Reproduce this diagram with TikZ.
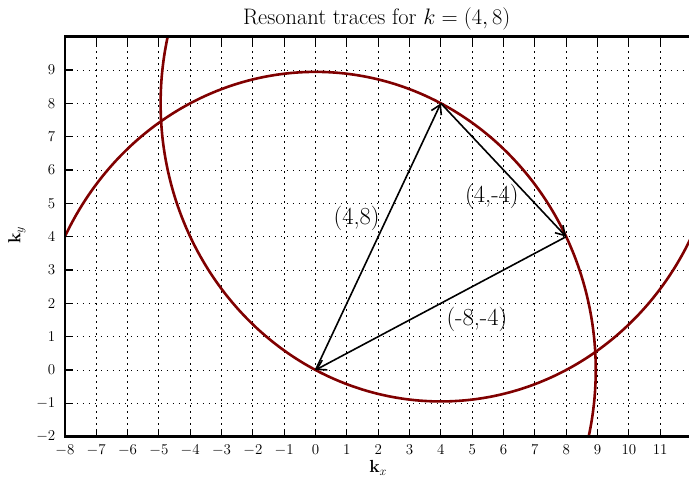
\documentclass[tikz,border=0pt]{standalone}
\usepackage{fix-cm}
\usetikzlibrary{arrows.meta}
\definecolor{tracered}{RGB}{128,0,0}
\tikzset{
  gridline/.style={black,line width=0.8pt,dash pattern=on 1.2pt off 4.8pt},
  trace/.style={tracered,line width=2.6pt},
  kvec/.style={black,line width=1.6pt,-{Straight Barb[length=9pt,width=11pt]}},
  tickmark/.style={black,line width=1.2pt},
  ticklab/.style={font=\fontsize{15}{18}\selectfont},
  veclab/.style={font=\fontsize{24.5}{29}\selectfont},
}
\begin{document}
\begin{tikzpicture}[x=31.33pt,y=33.33pt]
\useasboundingbox (-10.07,-3.42) rectangle (11.92,11.10);
% grid
\foreach \x in {-7,...,11} \draw[gridline] (\x,-2) -- (\x,10);
\foreach \y in {-1,...,9} \draw[gridline] (-8,\y) -- (11.92,\y);
% resonant traces, |p|=|k| and |p-k|=|k|
\begin{scope}
\clip (-8,-2) rectangle (11.92,10);
\draw[trace] plot[domain=0:360,samples=240,smooth] ({sqrt(80)*cos(\x)},{sqrt(80)*sin(\x)});
\draw[trace] plot[domain=0:360,samples=240,smooth] ({4+sqrt(80)*cos(\x)},{8+sqrt(80)*sin(\x)});
\end{scope}
% vectors
\coordinate (O) at (0,0); \coordinate (K) at (4,8); \coordinate (Q) at (8,4);
\draw[kvec] (O) -- (K); \draw[kvec] (K) -- (Q); \draw[kvec] (Q) -- (O);
\node[veclab] (lk) at (1.31,4.56) {(4,8)};
\node[veclab] (lkq) at (5.63,5.22) {(4,-4)};
\node[veclab] (lqo) at (5.15,1.53) {(-8,-4)};
% frame and ticks
\draw[line width=2.4pt,line join=miter] (11.92,10) -- (-8,10) -- (-8,-2) -- (11.92,-2);
\foreach \x in {-7,...,11} {\draw[tickmark] (\x,-2) -- ++(0,0.24); \draw[tickmark] (\x,10) -- ++(0,-0.24);}
\foreach \y in {-1,...,9} \draw[tickmark] (-8,\y) -- ++(0.25,0);
\foreach \x [count=\i] in {-8,...,11} \node[ticklab,anchor=base] (xt\i) at (\x,-2.55) {$\x$};
\foreach \y [count=\i] in {-2,...,9} \node[ticklab,anchor=east,xshift=-6pt] (yt\i) at (-8,\y) {$\y$};
\node[font=\fontsize{17.5}{21}\selectfont,anchor=base] (xlab) at (2,-3.09) {$\mathbf{k}_x$};
\node[font=\fontsize{17.5}{21}\selectfont,rotate=90] (ylab) at (-9.53,4.05) {$\mathbf{k}_y$};
\node[font=\fontsize{22.4}{26}\selectfont,anchor=base] (title) at (1.95,10.35) {Resonant traces for $k=(4,8)$};
\end{tikzpicture}
\end{document}
